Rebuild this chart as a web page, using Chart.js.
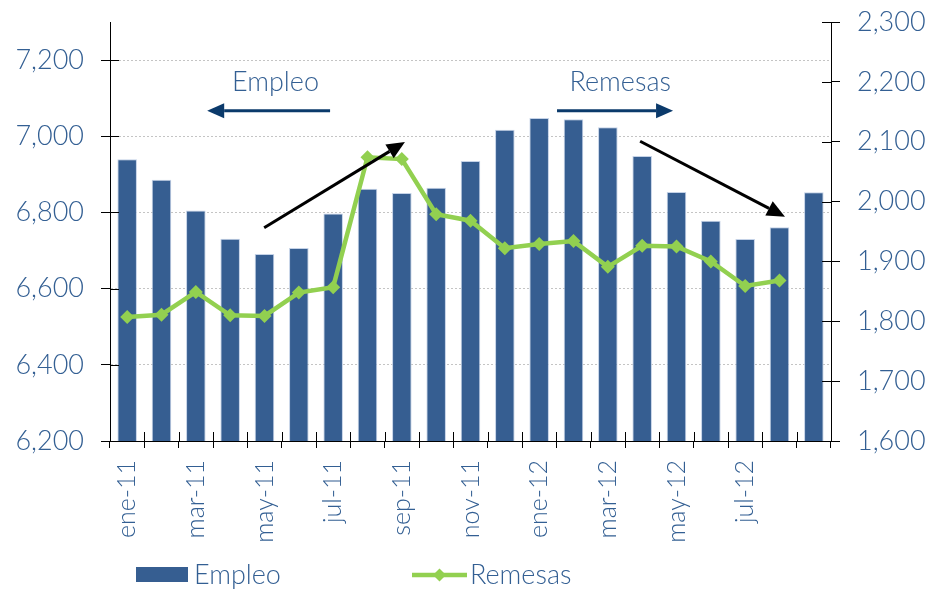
<!DOCTYPE html>
<html lang="es">
<head>
<meta charset="UTF-8">
<title>Empleo y Remesas</title>
<script src="https://cdn.jsdelivr.net/npm/chart.js"></script>
<style>
  html, body { margin: 0; padding: 0; background: #fff; }
  #wrap { width: 930px; height: 589px; }
</style>
</head>
<body>
<div id="wrap"><canvas id="chart" width="930" height="589"></canvas></div>
<script>
// months (one bar each), only every other one gets a label
const months = ['ene-11', 'feb-11', 'mar-11', 'abr-11', 'may-11', 'jun-11', 'jul-11', 'ago-11', 'sep-11', 'oct-11',
                'nov-11', 'dic-11', 'ene-12', 'feb-12', 'mar-12', 'abr-12', 'may-12', 'jun-12', 'jul-12', 'ago-12', 'sep-12'];
// Empleo (left axis)
const empleo = [6940, 6886, 6805, 6731, 6691, 6707, 6797, 6862, 6851, 6865,
                6935, 7017, 7048, 7045, 7024, 6948, 6854, 6778, 6730, 6761, 6853];
// Remesas (right axis), no value yet for the last month
const remesas = [1807, 1811, 1849, 1810, 1809, 1848, 1857, 2074, 2071, 1979,
                 1968, 1922, 1929, 1934, 1891, 1926, 1925, 1900, 1859, 1868, null];
const empleoTicks = [6200, 6400, 6600, 6800, 7000, 7200];
const remesasTicks = [1600, 1700, 1800, 1900, 2000, 2100, 2200, 2300];

// annotations, placed in data coordinates (category index, left axis value)
const notes = [
  { text: 'Empleo', x: 4.32, y: 7141 },
  { text: 'Remesas', x: 14.36, y: 7141 }
];
const blueArrows = [
  { x1: 5.91, x2: 2.33, y: 7067 },
  { x1: 12.52, x2: 15.9, y: 7067 }
];
const blackArrows = [
  { x1: 3.99, y1: 6760, x2: 8.09, y2: 6985 },
  { x1: 14.94, y1: 6987, x2: 19.16, y2: 6789 }
];

const textBlue = '#335f93';
const barBlue = '#365e91';
const green = '#92d050';
const navy = '#0b3a6b';
const fontFamily = 'Lato, "Open Sans", sans-serif';

function arrow(ctx, x1, y1, x2, y2, color, width, headLen, headW) {
  const ang = Math.atan2(y2 - y1, x2 - x1);
  const bx = x2 - Math.cos(ang) * headLen, by = y2 - Math.sin(ang) * headLen;
  ctx.strokeStyle = color; ctx.fillStyle = color; ctx.lineWidth = width;
  ctx.beginPath(); ctx.moveTo(x1, y1); ctx.lineTo(bx, by); ctx.stroke();
  ctx.beginPath();
  ctx.moveTo(x2, y2);
  ctx.lineTo(bx + Math.sin(ang) * headW / 2, by - Math.cos(ang) * headW / 2);
  ctx.lineTo(bx - Math.sin(ang) * headW / 2, by + Math.cos(ang) * headW / 2);
  ctx.closePath(); ctx.fill();
}

const extras = {
  id: 'extras',
  afterDraw(chart) {
    const { ctx, scales } = chart;
    const x = scales.x, yl = scales.y, yr = scales.y1;
    ctx.save();

    // inner half of the crossing tick marks
    ctx.strokeStyle = '#000'; ctx.lineWidth = 1;
    ctx.beginPath();
    yl.ticks.forEach(t => {
      const py = Math.round(yl.getPixelForValue(t.value)) + 0.5;
      ctx.moveTo(yl.right, py); ctx.lineTo(yl.right + 9, py);
    });
    yr.ticks.forEach(t => {
      const py = Math.round(yr.getPixelForValue(t.value)) + 0.5;
      ctx.moveTo(yr.left - 9, py); ctx.lineTo(yr.left, py);
    });
    for (let i = 0; i <= months.length; i++) {
      const px = Math.round(x.getPixelForValue(i - 0.5)) + 0.5;
      ctx.moveTo(px, x.top); ctx.lineTo(px, x.top - 9);
    }
    ctx.stroke();

    // text notes and arrows
    ctx.font = '300 27px ' + fontFamily;
    ctx.fillStyle = textBlue;
    ctx.textAlign = 'center'; ctx.textBaseline = 'middle';
    notes.forEach(n => ctx.fillText(n.text, x.getPixelForValue(n.x), yl.getPixelForValue(n.y)));
    blueArrows.forEach(a => {
      const py = yl.getPixelForValue(a.y);
      arrow(ctx, x.getPixelForValue(a.x1), py, x.getPixelForValue(a.x2), py, navy, 3, 17, 15);
    });
    blackArrows.forEach(a => {
      arrow(ctx, x.getPixelForValue(a.x1), yl.getPixelForValue(a.y1),
            x.getPixelForValue(a.x2), yl.getPixelForValue(a.y2), '#000', 3, 18, 16);
    });

    // legend
    const [bars, line] = chart.data.datasets;
    const ly = 575;
    ctx.fillStyle = bars.backgroundColor;
    ctx.fillRect(136, ly - 8, 52, 15);
    ctx.strokeStyle = line.borderColor; ctx.lineWidth = 4.5;
    ctx.beginPath(); ctx.moveTo(412, ly); ctx.lineTo(467, ly); ctx.stroke();
    ctx.fillStyle = line.borderColor;
    ctx.beginPath();
    ctx.moveTo(439.5, ly - 6.5); ctx.lineTo(446, ly); ctx.lineTo(439.5, ly + 6.5); ctx.lineTo(433, ly);
    ctx.closePath(); ctx.fill();
    ctx.fillStyle = textBlue;
    ctx.textAlign = 'left';
    ctx.fillText(bars.label, 194, ly);
    ctx.fillText(line.label, 470, ly);
    ctx.restore();
  }
};

const tickFont = { family: fontFamily, size: 27, weight: 300 };
// vertical axes: fixed width, no extra room above/below for the end labels
const fitY = w => s => { s.width = w; s.paddingTop = 0; s.paddingBottom = 0; };

new Chart(document.getElementById('chart'), {
  type: 'bar',
  data: {
    labels: months,
    datasets: [
      {
        type: 'bar',
        label: 'Empleo',
        data: empleo,
        yAxisID: 'y',
        backgroundColor: barBlue,
        borderColor: 'rgba(190,205,228,0.9)',
        borderWidth: 1,
        categoryPercentage: 1,
        barPercentage: 0.57,
        order: 1
      },
      {
        type: 'line',
        label: 'Remesas',
        data: remesas,
        yAxisID: 'y1',
        borderColor: green,
        backgroundColor: green,
        borderWidth: 4.5,
        pointStyle: 'rectRot',
        pointRadius: 7,
        pointBackgroundColor: green,
        pointBorderColor: green,
        pointBorderWidth: 0,
        tension: 0,
        fill: false,
        order: 0
      }
    ]
  },
  options: {
    responsive: false,
    animation: false,
    layout: { padding: { top: 22, left: 0, right: 0, bottom: 0 } },
    plugins: { legend: { display: false }, tooltip: { enabled: false } },
    scales: {
      x: {
        offset: true,
        grid: { offset: true, drawOnChartArea: false, tickLength: 7, tickColor: '#000' },
        border: { color: '#000', width: 1 },
        ticks: {
          autoSkip: false, maxRotation: 90, minRotation: 90, padding: 12,
          color: textBlue, font: { family: fontFamily, size: 25, weight: 300 },
          callback: (v, i) => (i % 2 === 0 && i < months.length - 1) ? months[i] : ''
        },
        afterFit: s => { s.height = 148; s.paddingLeft = 0; s.paddingRight = 0; }
      },
      y: {
        position: 'left',
        min: 6200, max: 7300,
        afterBuildTicks: s => { s.ticks = empleoTicks.map(v => ({ value: v })); },
        grid: { color: '#c4c4c4', lineWidth: 1, tickLength: 9, tickColor: '#000' },
        border: { color: '#000', width: 1, dash: [2, 2] },
        ticks: { color: textBlue, font: tickFont, padding: 17, callback: v => v.toLocaleString('en-US') },
        afterFit: fitY(110)
      },
      y1: {
        position: 'right',
        min: 1600, max: 2300,
        afterBuildTicks: s => { s.ticks = remesasTicks.map(v => ({ value: v })); },
        grid: { drawOnChartArea: false, tickLength: 9, tickColor: '#000' },
        border: { color: '#000', width: 1 },
        ticks: { color: textBlue, font: tickFont, padding: 17, callback: v => v.toLocaleString('en-US') },
        afterFit: fitY(99)
      }
    }
  },
  plugins: [extras]
});
</script>
</body>
</html>
